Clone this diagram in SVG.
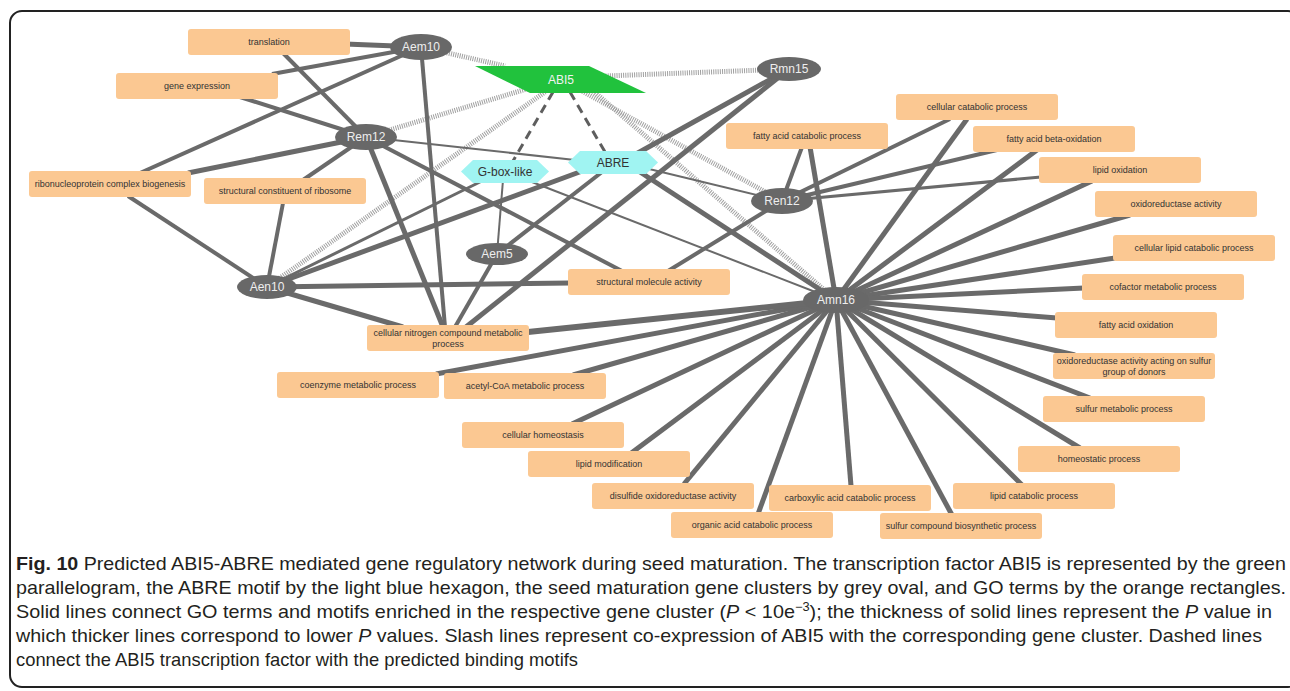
<svg xmlns="http://www.w3.org/2000/svg" width="1290" height="691" viewBox="0 0 1290 691">
<style>
.go rect{fill:#fbc892;}
.go text{font-family:"Liberation Sans",Arial,sans-serif;font-size:9px;fill:#333;text-anchor:middle;}
.cl ellipse{fill:#686868;}
.cl text{font-family:"Liberation Sans",Arial,sans-serif;font-size:12px;fill:#eeeeee;text-anchor:middle;}
.mo polygon{fill:#a0f4f2;}
.mo text{font-family:"Liberation Sans",Arial,sans-serif;font-size:12px;fill:#333;text-anchor:middle;}
.e line{stroke:#6a6a6a;stroke-linecap:butt;}
.h line{stroke:#a0a0a0;stroke-width:5;stroke-dasharray:1 1.2;}
.d line{stroke:#5e5e5e;stroke-width:3;stroke-dasharray:9 6;}
.cap{font-family:"Liberation Sans",Arial,sans-serif;font-size:18.5px;fill:#231f20;}
</style>
<rect x="10" y="11" width="1290" height="676" rx="12" fill="#fff" stroke="#222" stroke-width="2"/>
<g id="connectors">
<g class="h">
<line x1="421" y1="47" x2="505" y2="66"/>
<line x1="789" y1="69" x2="605" y2="76"/>
<line x1="366" y1="137" x2="530" y2="88"/>
<line x1="267" y1="287" x2="545" y2="92"/>
<line x1="782" y1="201" x2="580" y2="90"/>
<line x1="836" y1="300" x2="592" y2="90"/>
</g>
<g class="d">
<line x1="553" y1="92" x2="513" y2="161"/>
<line x1="570" y1="92" x2="605" y2="152"/>
</g>
<g class="e">
<line x1="421" y1="47" x2="345" y2="44" stroke-width="5"/>
<line x1="421" y1="47" x2="272" y2="74" stroke-width="4"/>
<line x1="421" y1="47" x2="140" y2="173" stroke-width="4"/>
<line x1="421" y1="47" x2="445" y2="327" stroke-width="4"/>
<line x1="366" y1="137" x2="283" y2="53" stroke-width="4"/>
<line x1="366" y1="137" x2="240" y2="97" stroke-width="4"/>
<line x1="366" y1="137" x2="188" y2="173" stroke-width="5"/>
<line x1="366" y1="137" x2="303" y2="180" stroke-width="4"/>
<line x1="366" y1="137" x2="443" y2="327" stroke-width="5"/>
<line x1="366" y1="137" x2="575" y2="160" stroke-width="2"/>
<line x1="366" y1="137" x2="622" y2="271" stroke-width="4"/>
<line x1="267" y1="287" x2="128" y2="196" stroke-width="4"/>
<line x1="267" y1="287" x2="283" y2="203" stroke-width="4"/>
<line x1="267" y1="287" x2="484" y2="180" stroke-width="3"/>
<line x1="267" y1="287" x2="585" y2="170" stroke-width="5"/>
<line x1="267" y1="287" x2="570" y2="283" stroke-width="5"/>
<line x1="267" y1="287" x2="403" y2="327" stroke-width="5"/>
<line x1="497" y1="254" x2="503" y2="180" stroke-width="2"/>
<line x1="497" y1="254" x2="602" y2="172" stroke-width="4"/>
<line x1="497" y1="254" x2="455" y2="327" stroke-width="4"/>
<line x1="789" y1="69" x2="636" y2="154" stroke-width="5"/>
<line x1="789" y1="69" x2="466" y2="327" stroke-width="5"/>
<line x1="782" y1="201" x2="802" y2="147" stroke-width="4"/>
<line x1="782" y1="201" x2="950" y2="119" stroke-width="4"/>
<line x1="782" y1="201" x2="997" y2="150" stroke-width="4"/>
<line x1="782" y1="201" x2="1041" y2="177" stroke-width="3"/>
<line x1="782" y1="201" x2="645" y2="168" stroke-width="2"/>
<line x1="782" y1="201" x2="668" y2="271" stroke-width="4"/>
<line x1="836" y1="300" x2="810" y2="147" stroke-width="5"/>
<line x1="836" y1="300" x2="967" y2="119" stroke-width="5"/>
<line x1="836" y1="300" x2="1037" y2="150" stroke-width="5"/>
<line x1="836" y1="300" x2="1092" y2="181" stroke-width="5"/>
<line x1="836" y1="300" x2="1130" y2="215" stroke-width="5"/>
<line x1="836" y1="300" x2="1115" y2="258" stroke-width="5"/>
<line x1="836" y1="300" x2="1084" y2="288" stroke-width="5"/>
<line x1="836" y1="300" x2="1057" y2="318" stroke-width="5"/>
<line x1="836" y1="300" x2="1075" y2="355" stroke-width="5"/>
<line x1="836" y1="300" x2="1090" y2="398" stroke-width="5"/>
<line x1="836" y1="300" x2="1080" y2="448" stroke-width="5"/>
<line x1="836" y1="300" x2="1022" y2="485" stroke-width="5"/>
<line x1="836" y1="300" x2="952" y2="515" stroke-width="5"/>
<line x1="836" y1="300" x2="851" y2="486" stroke-width="5"/>
<line x1="836" y1="300" x2="758" y2="514" stroke-width="5"/>
<line x1="836" y1="300" x2="684" y2="484" stroke-width="5"/>
<line x1="836" y1="300" x2="630" y2="454" stroke-width="5"/>
<line x1="836" y1="300" x2="572" y2="424" stroke-width="5"/>
<line x1="836" y1="300" x2="573" y2="375" stroke-width="5"/>
<line x1="836" y1="300" x2="436" y2="374" stroke-width="5"/>
<line x1="836" y1="300" x2="528" y2="332" stroke-width="6"/>
<line x1="836" y1="300" x2="532" y2="182" stroke-width="2"/>
<line x1="836" y1="300" x2="640" y2="172" stroke-width="5"/>
</g>
</g>
<g id="ABI5"><polygon points="475,66 589,66 646,93 530,93" fill="#21c23d"/><text x="561" y="84" font-family="Liberation Sans, Arial, sans-serif" font-size="12" fill="#f2f2f2" text-anchor="middle">ABI5</text></g>
<g id="Gbox" class="mo"><polygon points="461,171.5 473,160 537,160 549,171.5 537,183 473,183"/><text x="505" y="176">G-box-like</text></g>
<g id="ABRE" class="mo"><polygon points="568,162.5 580,151 646,151 658,162.5 646,174 580,174"/><text x="613" y="167">ABRE</text></g>
<g id="Aem10" class="cl"><ellipse cx="421" cy="47" rx="31" ry="13"/><text x="421" y="51">Aem10</text></g>
<g id="Rem12" class="cl"><ellipse cx="366" cy="137" rx="31" ry="13"/><text x="366" y="141">Rem12</text></g>
<g id="Aen10" class="cl"><ellipse cx="267" cy="287" rx="30" ry="12"/><text x="267" y="291">Aen10</text></g>
<g id="Aem5" class="cl"><ellipse cx="497" cy="254" rx="31" ry="11"/><text x="497" y="258">Aem5</text></g>
<g id="Rmn15" class="cl"><ellipse cx="789" cy="69" rx="32" ry="12"/><text x="789" y="73">Rmn15</text></g>
<g id="Ren12" class="cl"><ellipse cx="782" cy="201" rx="31" ry="13"/><text x="782" y="205">Ren12</text></g>
<g id="Amn16" class="cl"><ellipse cx="836" cy="300" rx="33" ry="13"/><text x="836" y="304">Amn16</text></g>
<g id="go1" class="go"><rect x="188" y="29" width="162" height="26" rx="3"/><text x="269" y="45">translation</text></g>
<g id="go2" class="go"><rect x="116" y="73" width="162" height="26" rx="3"/><text x="197" y="89">gene expression</text></g>
<g id="go3" class="go"><rect x="29" y="171" width="162" height="26" rx="3"/><text x="110" y="187">ribonucleoprotein complex biogenesis</text></g>
<g id="go4" class="go"><rect x="204" y="178" width="162" height="26" rx="3"/><text x="285" y="194">structural constituent of ribosome</text></g>
<g id="go5" class="go"><rect x="367" y="325" width="162" height="26" rx="3"/><text x="448" y="336">cellular nitrogen compound metabolic</text><text x="448" y="347">process</text></g>
<g id="go6" class="go"><rect x="277" y="372" width="162" height="26" rx="3"/><text x="358" y="388">coenzyme metabolic process</text></g>
<g id="go7" class="go"><rect x="444" y="373" width="162" height="26" rx="3"/><text x="525" y="389">acetyl-CoA metabolic process</text></g>
<g id="go8" class="go"><rect x="568" y="269" width="162" height="26" rx="3"/><text x="649" y="285">structural molecule activity</text></g>
<g id="go9" class="go"><rect x="726" y="123" width="162" height="26" rx="3"/><text x="807" y="139">fatty acid catabolic process</text></g>
<g id="go10" class="go"><rect x="896" y="94" width="162" height="26" rx="3"/><text x="977" y="110">cellular catabolic process</text></g>
<g id="go11" class="go"><rect x="973" y="126" width="162" height="26" rx="3"/><text x="1054" y="142">fatty acid beta-oxidation</text></g>
<g id="go12" class="go"><rect x="1039" y="157" width="162" height="26" rx="3"/><text x="1120" y="173">lipid oxidation</text></g>
<g id="go13" class="go"><rect x="1095" y="191" width="162" height="26" rx="3"/><text x="1176" y="207">oxidoreductase activity</text></g>
<g id="go14" class="go"><rect x="1113" y="235" width="162" height="26" rx="3"/><text x="1194" y="251">cellular lipid catabolic process</text></g>
<g id="go15" class="go"><rect x="1082" y="274" width="162" height="26" rx="3"/><text x="1163" y="290">cofactor metabolic process</text></g>
<g id="go16" class="go"><rect x="1055" y="312" width="162" height="26" rx="3"/><text x="1136" y="328">fatty acid oxidation</text></g>
<g id="go17" class="go"><rect x="1053" y="353" width="162" height="26" rx="3"/><text x="1134" y="364">oxidoreductase activity acting on sulfur</text><text x="1134" y="375">group of donors</text></g>
<g id="go18" class="go"><rect x="1043" y="396" width="162" height="26" rx="3"/><text x="1124" y="412">sulfur metabolic process</text></g>
<g id="go19" class="go"><rect x="1018" y="446" width="162" height="26" rx="3"/><text x="1099" y="462">homeostatic process</text></g>
<g id="go20" class="go"><rect x="953" y="483" width="162" height="26" rx="3"/><text x="1034" y="499">lipid catabolic process</text></g>
<g id="go21" class="go"><rect x="880" y="513" width="162" height="26" rx="3"/><text x="961" y="529">sulfur compound biosynthetic process</text></g>
<g id="go22" class="go"><rect x="769" y="485" width="162" height="26" rx="3"/><text x="850" y="501">carboxylic acid catabolic process</text></g>
<g id="go23" class="go"><rect x="671" y="512" width="162" height="26" rx="3"/><text x="752" y="528">organic acid catabolic process</text></g>
<g id="go24" class="go"><rect x="592" y="483" width="162" height="26" rx="3"/><text x="673" y="499">disulfide oxidoreductase activity</text></g>
<g id="go25" class="go"><rect x="528" y="451" width="162" height="26" rx="3"/><text x="609" y="467">lipid modification</text></g>
<g id="go26" class="go"><rect x="462" y="422" width="162" height="26" rx="3"/><text x="543" y="438">cellular homeostasis</text></g>
<g id="caption">
<text class="cap" x="16" y="570" textLength="1270" lengthAdjust="spacingAndGlyphs"><tspan font-weight="bold">Fig. 10</tspan> Predicted ABI5-ABRE mediated gene regulatory network during seed maturation. The transcription factor ABI5 is represented by the green</text>
<text class="cap" x="16" y="594" textLength="1270" lengthAdjust="spacingAndGlyphs">parallelogram, the ABRE motif by the light blue hexagon, the seed maturation gene clusters by grey oval, and GO terms by the orange rectangles.</text>
<text class="cap" x="16" y="618" textLength="1256" lengthAdjust="spacingAndGlyphs">Solid lines connect GO terms and motifs enriched in the respective gene cluster (<tspan font-style="italic">P</tspan> &lt; 10e<tspan dy="-7" font-size="12">−3</tspan><tspan dy="7">); the thickness of solid lines represent the </tspan><tspan font-style="italic">P</tspan> value in</text>
<text class="cap" x="16" y="642" textLength="1246" lengthAdjust="spacingAndGlyphs">which thicker lines correspond to lower <tspan font-style="italic">P</tspan> values. Slash lines represent co-expression of ABI5 with the corresponding gene cluster. Dashed lines</text>
<text class="cap" x="16" y="666" textLength="562" lengthAdjust="spacingAndGlyphs">connect the ABI5 transcription factor with the predicted binding motifs</text>
</g>
</svg>
